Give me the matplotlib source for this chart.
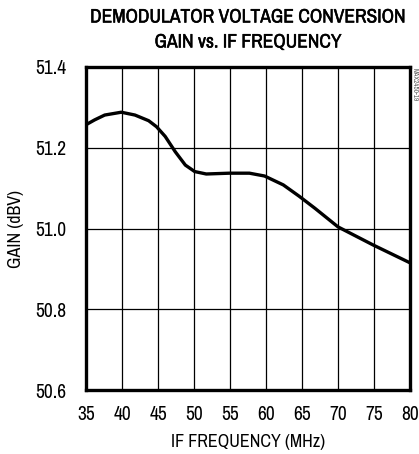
import matplotlib
matplotlib.use("Agg")
import matplotlib.pyplot as plt
import matplotlib.patheffects as pe
from matplotlib import font_manager

# values
freq_mhz = [35, 36.2, 37.6, 39.9, 41.8, 43.7, 44.8, 46, 47.4, 48.8, 50.1,
            51.7, 54.9, 57.7, 59.8, 62.4, 64.6, 66.8, 70.0, 74.9, 80]
gain_dbv = [51.257, 51.269, 51.281, 51.288, 51.281, 51.267, 51.252, 51.228,
            51.190, 51.157, 51.141, 51.135, 51.137, 51.137, 51.130, 51.108,
            51.080, 51.050, 51.004, 50.959, 50.915]

x_ticks = [35, 40, 45, 50, 55, 60, 65, 70, 75, 80]
y_ticks = [50.6, 50.8, 51.0, 51.2, 51.4]

# look for a narrow face, like the original artwork
names = sorted(set(f.name for f in font_manager.fontManager.ttflist))
narrow = [n for n in names if 'Narrow' in n or 'Condensed' in n]
if narrow:
    fam = [narrow[0], 'DejaVu Sans']
    sz_tick, sz_lab, sz_title = 14, 13, 14
    fake_bold = 0.35
else:
    fam = ['Liberation Sans', 'DejaVu Sans']
    sz_tick, sz_lab, sz_title = 11, 10.8, 11.8
    fake_bold = 0
plt.rcParams['font.family'] = fam

fig = plt.figure(figsize=(4.19, 4.54), dpi=100)
ax = fig.add_axes([86 / 419, 1 - 390 / 454, 324 / 419, 323 / 454])

ax.plot(freq_mhz, gain_dbv, color='black', lw=2.4, solid_capstyle='butt',
        solid_joinstyle='round')

ax.set_xlim(35, 80)
ax.set_ylim(50.6, 51.4)
ax.set_xticks(x_ticks)
ax.set_yticks(y_ticks)
ax.set_xticklabels([str(t) for t in x_ticks])
ax.set_yticklabels(['%.1f' % t for t in y_ticks])
ax.tick_params(length=0, labelsize=sz_tick)
ax.tick_params(axis='x', pad=11)
ax.tick_params(axis='y', pad=14)
ax.grid(True, color='black', lw=0.9)
for s in ax.spines.values():
    s.set_linewidth(2.4)

ax.set_xlabel('IF FREQUENCY (MHz)', fontsize=sz_lab, labelpad=7)
ax.set_ylabel('GAIN (dBV)', fontsize=sz_lab, labelpad=8)

title_fx = [pe.withStroke(linewidth=fake_bold, foreground='black')] if fake_bold else None
for yy, line in [(17, 'DEMODULATOR VOLTAGE CONVERSION'), (42, 'GAIN vs. IF FREQUENCY')]:
    fig.text(248 / 419, 1 - yy / 454, line, ha='center', va='center',
             fontsize=sz_title, fontweight='bold', path_effects=title_fx)
fig.text(412 / 419, 1 - 68 / 454, 'MAX2450-19', rotation=-90, ha='left', va='top',
         fontsize=5, color='#555555')

fig.savefig('out.png', dpi=100)
